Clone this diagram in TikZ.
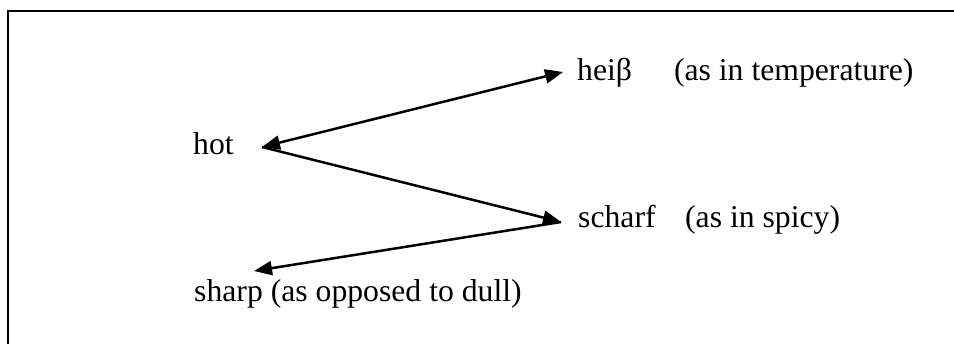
\documentclass[tikz,border=0pt]{standalone}
\usepackage{fontspec}
\setmainfont{Liberation Serif}
\usetikzlibrary{arrows.meta}
\begin{document}
\begin{tikzpicture}[x=1pt,y=-1pt,
  lbl/.style={anchor=base west, inner sep=0pt, font=\fontsize{31.7}{38}\selectfont},
  conn/.style={line width=2.5pt, -{Triangle[length=18pt,width=14pt]}},
  tipb/.style={line width=2.5pt, {Triangle[length=18pt,width=14pt]}-{Triangle[length=18pt,width=14pt]}}]
\useasboundingbox (0,0) rectangle (954,344);
\draw[line width=2pt] (956,11) -- (8,11) -- (8,346);
\node[lbl] (hot) at (193,155) {hot};
\node[lbl] (hei) at (577,81) {heiβ\hspace{42pt}(as in temperature)};
\node[lbl] (sch) at (578,228) {scharf\hspace{29.5pt}(as in spicy)};
\node[lbl] (shp) at (194,302) {sharp (as opposed to dull)};
\coordinate (hotP) at (262,147);
\coordinate (heiP) at (563,72);
\coordinate (schP) at (561,222);
\coordinate (shpP) at (254,271);
\draw[tipb] (hotP) -- (heiP);
\draw[conn] (hotP) -- (schP);
\draw[conn] (schP) -- (shpP);
\end{tikzpicture}
\end{document}
